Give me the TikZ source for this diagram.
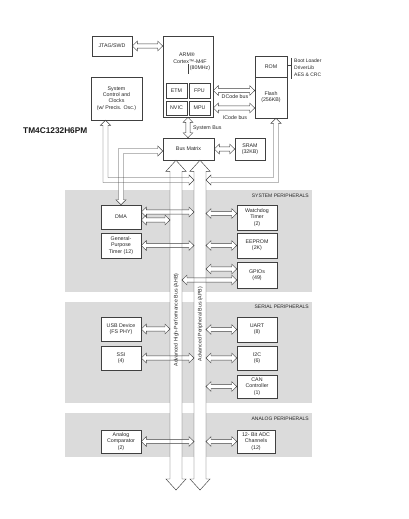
\documentclass[tikz,border=0pt]{standalone}
\usepackage{fontspec}
\setmainfont{Liberation Sans}
\usetikzlibrary{calc}
\pgfdeclarelayer{panels}
\pgfdeclarelayer{fills}
\pgfsetlayers{panels,fills,main}
\tikzset{
  arrline/.style={draw=black!75, line width=0.45pt, line join=miter},
  box/.style={draw=black!75, line width=0.55pt, fill=white, inner sep=0pt, align=center,
    text=black!85, font=\fontsize{5.3}{6.2}\selectfont},
  lbl/.style={inner sep=0pt, text=black!85, font=\fontsize{5.3}{6.2}\selectfont},
  plabel/.style={inner sep=0pt, anchor=east, text=black!85, font=\fontsize{5}{6}\selectfont},
  panel/.style={fill=black!14},
}
\newcommand{\hollow}[1]{%
  \begin{pgfonlayer}{fills}\fill[white] #1;\end{pgfonlayer}%
  \draw[arrline] #1;}
% horizontal double arrow: left x from #1, right x from #2, y from #3; s,h,L
\newcommand{\Hd}[6]{\hollow{let \p1=#1,\p2=#2,\p3=#3 in (\x1,\y3) -- (\x1+#6,\y3+#5) -- (\x1+#6,\y3+#4) -- (\x2-#6,\y3+#4) -- (\x2-#6,\y3+#5) -- (\x2,\y3) -- (\x2-#6,\y3-#5) -- (\x2-#6,\y3-#4) -- (\x1+#6,\y3-#4) -- (\x1+#6,\y3-#5) -- cycle}}
% vertical double arrow: top y from #1, bottom y from #2, x from #3
\newcommand{\Vd}[6]{\hollow{let \p1=#1,\p2=#2,\p3=#3 in (\x3,\y1) -- (\x3+#5,\y1-#6) -- (\x3+#4,\y1-#6) -- (\x3+#4,\y2+#6) -- (\x3+#5,\y2+#6) -- (\x3,\y2) -- (\x3-#5,\y2+#6) -- (\x3-#4,\y2+#6) -- (\x3-#4,\y1-#6) -- (\x3-#5,\y1-#6) -- cycle}}
\newcommand{\hdarrow}[3]{\Hd{#1}{#2}{#3}{2.2pt}{4.8pt}{5pt}}
\newcommand{\vdarrow}[3]{\Vd{#1}{#2}{#3}{2.2pt}{4.8pt}{5pt}}
\begin{document}
\begin{tikzpicture}[x=1pt,y=-1pt]
\useasboundingbox (0,0) rectangle (408,519);
% panels
\begin{pgfonlayer}{panels}
\fill[panel] (65,190) rectangle (312,292);
\fill[panel] (65,302) rectangle (312,403);
\fill[panel] (65,413) rectangle (312,457);
\end{pgfonlayer}
\node[plabel] (psys) at (309,196) {SYSTEM PERIPHERALS};
\node[plabel] (pser) at (309,307) {SERIAL PERIPHERALS};
\node[plabel] (pana) at (309,419) {ANALOG PERIPHERALS};
% title
\node[inner sep=0pt, anchor=west, font=\bfseries\fontsize{8.3}{9}\selectfont, text=black!90] (title) at (23,131) {TM4C1232H6PM};
% top blocks
\node[box, minimum width=40pt, minimum height=20pt] (jtag) at (112,46) {JTAG/SWD};
\node[box, minimum width=50pt, minimum height=81pt] (arm) at (188,76.5) {};
\node[lbl] (armt1) at (187,55) {ARM®};
\node[lbl] (armt2) at (190,61.5) {Cortex™-M4F};
\node[lbl] (armt3) at (200,68.5) {(80MHz)};
\draw[black!75, line width=0.4pt] (188,64) -- (188,74);
\node[box, minimum width=21pt, minimum height=15pt] (etm) at (176.5,90.5) {ETM};
\node[box, minimum width=21pt, minimum height=15pt] (fpu) at (199.5,90.5) {FPU};
\node[box, minimum width=21pt, minimum height=14pt] (nvic) at (176.5,108) {NVIC};
\node[box, minimum width=21pt, minimum height=14pt] (mpu) at (199.5,108) {MPU};
\node[box, minimum width=32pt, minimum height=21pt] (rom) at (271,66.5) {ROM};
\node[box, minimum width=32pt, minimum height=41pt] (flash) at (271,97.5) {Flash\\(256KB)};
\draw[black!75, line width=0.4pt] (rom.east) ++(0,-1) -- ++(4,0) coordinate (brk);
\draw[black!75, line width=0.4pt] (291,58) -- (291,79);
\node[lbl, anchor=west, align=left, font=\fontsize{5}{7}\selectfont] (boot) at (294,68) {Boot Loader\\DriverLib\\AES \& CRC};
\node[box, minimum width=51pt, minimum height=43pt] (sysctl) at (116.5,98.5) {System\\Control and\\Clocks\\(w/ Precis. Osc.)};
\node[box, minimum width=51pt, minimum height=22pt] (bm) at (188.5,149) {Bus Matrix};
\node[box, minimum width=30pt, minimum height=22pt] (sram) at (250,149) {SRAM\\(32KB)};
% connectors on top
\hdarrow{(jtag.east)}{(arm.west)}{(jtag.east)}
\hdarrow{(arm.east)}{(flash.west)}{(fpu)}
\hdarrow{(arm.east)}{(flash.west)}{(mpu)}
\node[lbl] (dcode) at (235,97) {DCode bus};
\node[lbl] (icode) at (235,117.5) {ICode bus};
\vdarrow{(arm.south)}{(bm.north)}{(arm.south)}
\node[lbl, anchor=west] (sbus) at (193,128) {System Bus};
\hdarrow{(bm.east)}{(sram.west)}{(bm.east)}
% bus edges
\coordinate (ahbX) at (176,490);
\coordinate (apbX) at (200,490);
\coordinate (ahbL) at (170,490);
\coordinate (ahbR) at (182,490);
\coordinate (apbL) at (194,490);
\coordinate (apbR) at (206,490);
\coordinate (hbus) at (0,180);
% main buses
\Vd{(bm.south)}{(ahbX)}{(ahbX)}{6pt}{10pt}{11pt}
\Vd{(bm.south)}{(apbX)}{(apbX)}{6pt}{10pt}{11pt}
\node[lbl, rotate=90, font=\fontsize{5.2}{6}\selectfont] (ahbt) at (176.3,320) {Advanced High-Performance Bus (AHB)};
\node[lbl, rotate=90, font=\fontsize{5.2}{6}\selectfont] (apbt) at (200.3,324) {Advanced Peripheral Bus (APB)};
% bent paths
\hollow{let \p1=($(sysctl.south)+(-11,0)$), \p2=(apbL), \p3=(hbus) in (\x1,\y1) -- (\x1+5pt,\y1-5pt) -- (\x1+2.5pt,\y1-5pt) -- (\x1+2.5pt,\y3+2.5pt) -- (\x2-5pt,\y3+2.5pt) -- (\x2-5pt,\y3+5pt) -- (\x2,\y3) -- (\x2-5pt,\y3-5pt) -- (\x2-5pt,\y3-2.5pt) -- (\x1-2.5pt,\y3-2.5pt) -- (\x1-2.5pt,\y1-5pt) -- (\x1-5pt,\y1-5pt) -- cycle}
\hollow{let \p1=($(flash.south)+(5,0)$), \p2=(apbR), \p3=(hbus) in (\x1,\y1) -- (\x1+5pt,\y1-5pt) -- (\x1+2.5pt,\y1-5pt) -- (\x1+2.5pt,\y3-2.5pt) -- (\x2+5pt,\y3-2.5pt) -- (\x2+5pt,\y3-5pt) -- (\x2,\y3) -- (\x2+5pt,\y3+5pt) -- (\x2+5pt,\y3+2.5pt) -- (\x1-2.5pt,\y3+2.5pt) -- (\x1-2.5pt,\y1-5pt) -- (\x1-5pt,\y1-5pt) -- cycle}
% peripheral boxes
\node[box, minimum width=40pt, minimum height=24pt] (dma) at (121,217) {DMA};
\hollow{let \p1=($(bm.west)+(0,2)$), \p2=(dma.north) in (\x1,\y1) -- (\x1-5pt,\y1+5pt) -- (\x1-5pt,\y1+2.5pt) -- (\x2-2.5pt,\y1+2.5pt) -- (\x2-2.5pt,\y2+5pt) -- (\x2-5pt,\y2+5pt) -- (\x2,\y2) -- (\x2+5pt,\y2+5pt) -- (\x2+2.5pt,\y2+5pt) -- (\x2+2.5pt,\y1-2.5pt) -- (\x1-5pt,\y1-2.5pt) -- (\x1-5pt,\y1-5pt) -- cycle}
\node[box, minimum width=40pt, minimum height=25pt] (gpt) at (121,245.5) {General-\\Purpose\\Timer (12)};
\node[box, minimum width=40pt, minimum height=25pt] (wdt) at (257,217.5) {Watchdog\\Timer\\(2)};
\node[box, minimum width=40pt, minimum height=25pt] (eeprom) at (257,245.5) {EEPROM\\(2K)};
\node[box, minimum width=40pt, minimum height=26pt] (gpio) at (257,275) {GPIOs\\(49)};
\node[box, minimum width=40pt, minimum height=24pt] (usb) at (121,329) {USB Device\\(FS PHY)};
\node[box, minimum width=40pt, minimum height=24pt] (ssi) at (121,358) {SSI\\(4)};
\node[box, minimum width=40pt, minimum height=25pt] (uart) at (257,329.5) {UART\\(8)};
\node[box, minimum width=40pt, minimum height=24pt] (i2c) at (257,358) {I2C\\(6)};
\node[box, minimum width=40pt, minimum height=23pt] (can) at (257,386.5) {CAN\\Controller\\(1)};
\node[box, minimum width=40pt, minimum height=23pt] (acomp) at (121,441.5) {Analog\\Comparator\\(2)};
\node[box, minimum width=38pt, minimum height=23pt] (adc) at (256,441.5) {12- Bit ADC\\Channels\\(12)};
% peripheral connectors
\hdarrow{(dma.east)}{(apbL)}{($(dma.east)+(0,-5)$)}
\hdarrow{(dma.east)}{(ahbL)}{($(dma.east)+(0,3)$)}
\hdarrow{(gpt.east)}{(apbL)}{(gpt.east)}
\hdarrow{(apbR)}{(wdt.west)}{($(wdt.west)+(0,-4)$)}
\hdarrow{(apbR)}{(eeprom.west)}{(eeprom.west)}
\hdarrow{(apbR)}{(gpio.west)}{($(gpio.west)+(0,-6)$)}
\hdarrow{(ahbR)}{(gpio.west)}{($(gpio.west)+(0,5)$)}
\hdarrow{(usb.east)}{(ahbL)}{(usb.east)}
\hdarrow{(ssi.east)}{(apbL)}{(ssi.east)}
\hdarrow{(apbR)}{(uart.west)}{(uart.west)}
\hdarrow{(apbR)}{(i2c.west)}{(i2c.west)}
\hdarrow{(apbR)}{(can.west)}{(can.west)}
\hdarrow{(acomp.east)}{(apbL)}{(acomp.east)}
\hdarrow{(apbR)}{(adc.west)}{(adc.west)}
\end{tikzpicture}
\end{document}
